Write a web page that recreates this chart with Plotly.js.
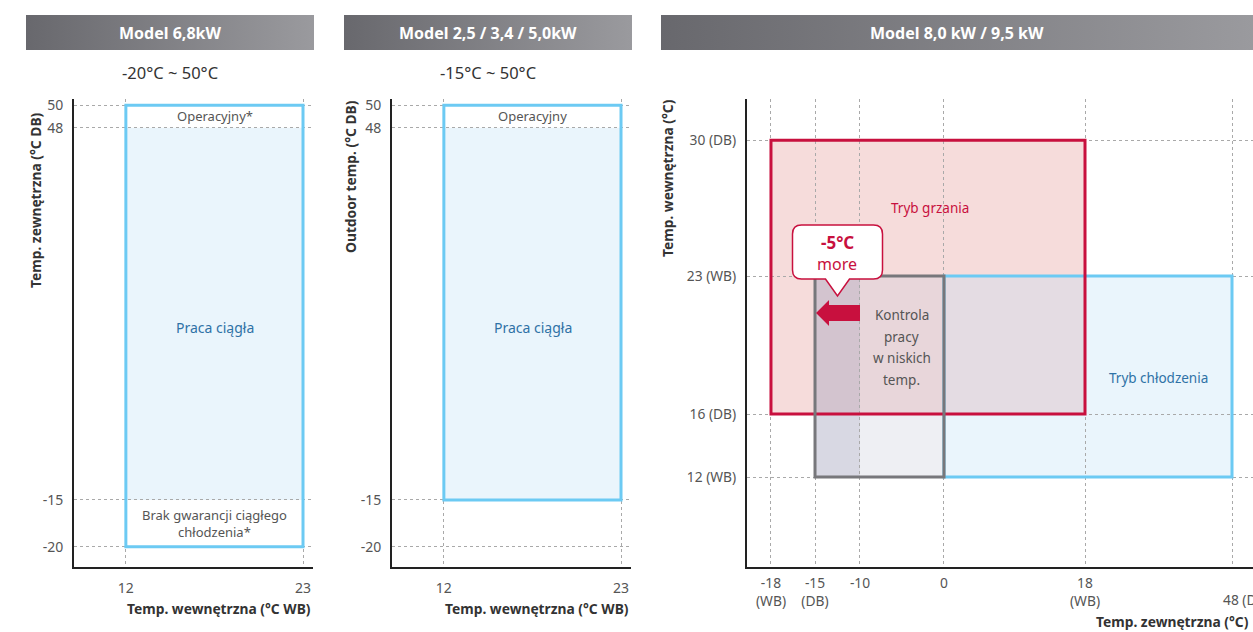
<!DOCTYPE html>
<html><head><meta charset="utf-8">
<script src="https://cdn.plot.ly/plotly-3.0.1.min.js"></script>
<style>html,body{margin:0;padding:0;background:#fff}#chart{width:1253px;height:632px}</style>
</head><body><div id="chart"></div>
<script>
// ---------------- data ----------------
const panelTitles = ['Model 6,8kW', 'Model 2,5 / 3,4 / 5,0kW', 'Model 8,0 kW / 9,5 kW'];
const panelRanges = ['-20°C ~ 50°C', '-15°C ~ 50°C'];
const indoorWB = [12, 23];
const outdoorTicks12 = [50, 48, -15, -20];
const p1Operating = [-20, 50];
const p1Continuous = [-15, 48];
const p2Operating = [-15, 50];
const p2Continuous = [-15, 48];
const p1Labels = ['Operacyjny*', 'Praca ciągła', 'Brak gwarancji ciągłego<br>chłodzenia*'];
const p2Labels = ['Operacyjny', 'Praca ciągła'];
const axisTitles12 = ['Temp. zewnętrzna (°C DB)', 'Outdoor temp. (°C DB)', 'Temp. wewnętrzna (°C WB)'];

const outdoorTicks3 = [-18, -15, -10, 0, 18, 48];
const outdoorTickText3 = ['-18<br>(WB)', '-15<br>(DB)', '-10', '0', '18<br>(WB)', '48 (DB)'];
const indoorTicks3 = [30, 23, 16, 12];
const indoorTickText3 = ['30 (DB)', '23 (WB)', '16 (DB)', '12 (WB)'];
const heatX = [-18, 18], heatY = [16, 30];
const coolX = [0, 48], coolY = [12, 23];
const lowX = [-15, 0], lowY = [12, 23];
const extX = [-15, -10];
const heatLabel = 'Tryb grzania';
const coolLabel = 'Tryb chłodzenia';
const lowLabel = ['Kontrola', 'pracy', 'w niskich', 'temp.'];
const extLabel = ['-5°C', 'more'];
const axisTitles3 = ['Temp. wewnętrzna (°C)', 'Temp. zewnętrzna (°C)'];

// ---------------- layout helpers ----------------
const W = 1253, H = 632;
const FONT = 'Noto Sans, Open Sans, sans-serif';
const RED = '#c8103e', BLUE = '#6ccaf3', BLUEFILL = '#eaf5fc', TXTBLUE = '#2f72a6';
// schematic (piecewise) axis scales: value breakpoints -> fraction of axis length
function pw(vals, fr) {
  return v => { let i = 0; while (i < vals.length - 2 && v > vals[i + 1]) i++;
    const t = (v - vals[i]) / (vals[i + 1] - vals[i]); return fr[i] + t * (fr[i + 1] - fr[i]); };
}
const ys12 = pw([-20, -15, 48, 50], [0.0434, 0.1432, 0.9387, 0.9865]);
const xs3 = pw([-18, -15, -10, 0, 18, 48], [0.0474, 0.1344, 0.2233, 0.3893, 0.668, 0.9585]);
const ys3 = pw([12, 16, 23, 30], [0.1923, 0.3269, 0.6218, 0.912]);
const P3 = {l: 747, r: 1253, t: 99, b: 567};
const px3 = v => P3.l + (P3.r - P3.l) * xs3(v);
const PY = {t: 99, b: 567};

const gridStyle = {showgrid: true, gridcolor: '#a9a9a9', griddash: 'dot', gridwidth: 1,
  showline: true, linecolor: '#222', linewidth: 2, zeroline: false, ticks: '', fixedrange: true};
const mid = a => (a[0] + a[1]) / 2;

function ann(px, py, text, o = {}) {
  return Object.assign({xref: 'paper', yref: 'paper', x: px / W, y: 1 - py / H, text,
    showarrow: false, xanchor: 'center', yanchor: 'middle',
    font: {family: FONT, size: 13, color: '#555'}}, o);
}
function rect(xr, yr, x0, x1, y0, y1, o) {
  return Object.assign({type: 'rect', xref: xr, yref: yr, x0, x1, y0, y1}, o);
}

// ---------------- traces ----------------
const traces = [];
const bars = [[26, 314], [344, 632], [661, 1253]];
bars.forEach(b => traces.push({
  type: 'scatter', xaxis: 'x4', yaxis: 'y4', mode: 'none', fill: 'toself', hoverinfo: 'skip',
  x: [b[0], b[1], b[1], b[0], b[0]], y: [15, 15, 50, 50, 15],
  fillgradient: {type: 'horizontal', colorscale: [[0, '#68686d'], [1, '#9a9a9e']]},
  showlegend: false
}));
traces.push({type: 'scatter', x: [], y: [], xaxis: 'x', yaxis: 'y', showlegend: false});
traces.push({type: 'scatter', x: [], y: [], xaxis: 'x2', yaxis: 'y2', showlegend: false});
traces.push({type: 'scatter', x: [], y: [], xaxis: 'x3', yaxis: 'y3', showlegend: false});

// ---------------- shapes ----------------
const shapes = [];
shapes.push(rect('x', 'y', indoorWB[0], indoorWB[1], ys12(p1Continuous[0]), ys12(p1Continuous[1]),
  {fillcolor: BLUEFILL, line: {width: 0}, layer: 'below'}));
shapes.push(rect('x', 'y', indoorWB[0], indoorWB[1], ys12(p1Operating[0]), ys12(p1Operating[1]),
  {line: {color: BLUE, width: 3}, layer: 'above'}));
shapes.push(rect('x2', 'y2', indoorWB[0], indoorWB[1], ys12(p2Continuous[0]), ys12(p2Continuous[1]),
  {fillcolor: BLUEFILL, line: {width: 0}, layer: 'below'}));
shapes.push(rect('x2', 'y2', indoorWB[0], indoorWB[1], ys12(p2Operating[0]), ys12(p2Operating[1]),
  {line: {color: BLUE, width: 3}, layer: 'above'}));
shapes.push(rect('x3', 'y3', xs3(heatX[0]), xs3(heatX[1]), ys3(heatY[0]), ys3(heatY[1]),
  {fillcolor: '#f6dcdb', line: {width: 0}, layer: 'below'}));
shapes.push(rect('x3', 'y3', xs3(lowX[0]), xs3(lowX[1]), ys3(lowY[0]), ys3(lowY[1]),
  {fillcolor: 'rgba(200,202,215,0.3)', line: {width: 0}, layer: 'below'}));
shapes.push(rect('x3', 'y3', xs3(extX[0]), xs3(extX[1]), ys3(lowY[0]), ys3(lowY[1]),
  {fillcolor: 'rgba(128,124,163,0.2)', line: {width: 0}, layer: 'below'}));
shapes.push(rect('x3', 'y3', xs3(coolX[0]), xs3(coolX[1]), ys3(coolY[0]), ys3(coolY[1]),
  {fillcolor: 'rgba(185,222,245,0.3)', line: {width: 0}, layer: 'below'}));
shapes.push(rect('x3', 'y3', xs3(coolX[0]), xs3(coolX[1]), ys3(coolY[0]), ys3(coolY[1]),
  {line: {color: BLUE, width: 3}, layer: 'above'}));
shapes.push(rect('x3', 'y3', xs3(heatX[0]), xs3(heatX[1]), ys3(heatY[0]), ys3(heatY[1]),
  {line: {color: RED, width: 3}, layer: 'above'}));
shapes.push(rect('x3', 'y3', xs3(lowX[0]), xs3(lowX[1]), ys3(lowY[0]), ys3(lowY[1]),
  {line: {color: '#77777b', width: 3}, layer: 'above'}));
(() => {
  const tip = px3(extX[0]) + 1, end = px3(extX[1]), yc = 313, hb = tip + 13;
  const p = `M ${tip},${yc} L ${hb},${yc - 13} L ${hb},${yc - 8} L ${end},${yc - 8} L ${end},${yc + 8} L ${hb},${yc + 8} L ${hb},${yc + 13} Z`;
  shapes.push({type: 'path', xref: 'x4', yref: 'y4', path: p, fillcolor: RED, line: {width: 0}, layer: 'above'});
  const cx = (px3(extX[0]) + px3(extX[1])) / 2;
  const x0 = cx - 45, x1 = cx + 45, y0 = 225, y1 = 279, r = 9, ya = 296;
  const q = `M ${x0 + r},${y0} L ${x1 - r},${y0} Q ${x1},${y0} ${x1},${y0 + r} L ${x1},${y1 - r} Q ${x1},${y1} ${x1 - r},${y1} ` +
    `L ${cx + 12},${y1} L ${cx},${ya} L ${cx - 12},${y1} L ${x0 + r},${y1} Q ${x0},${y1} ${x0},${y1 - r} L ${x0},${y0 + r} Q ${x0},${y0} ${x0 + r},${y0} Z`;
  shapes.push({type: 'path', xref: 'x4', yref: 'y4', path: q, fillcolor: '#fff', line: {color: RED, width: 1.5}, layer: 'above'});
})();

// ---------------- annotations ----------------
const annotations = [];
bars.forEach((b, i) => annotations.push(ann(mid(b), 33, '<b>' + panelTitles[i] + '</b>',
  {font: {family: FONT, size: 16, color: '#fff'}})));
annotations.push(ann(170, 73, panelRanges[0], {font: {family: FONT, size: 16.5, color: '#333'}}));
annotations.push(ann(488, 73, panelRanges[1], {font: {family: FONT, size: 16.5, color: '#333'}}));
const pyOf = f => PY.b - (PY.b - PY.t) * f;
const c1x = 214.5, c2x = 532.5;
annotations.push(ann(c1x, pyOf((ys12(48) + ys12(50)) / 2) - 1, p1Labels[0]));
annotations.push(ann(c1x, 327, p1Labels[1], {font: {family: FONT, size: 14, color: TXTBLUE}}));
annotations.push(ann(c1x, pyOf((ys12(-15) + ys12(-20)) / 2), p1Labels[2]));
annotations.push(ann(c2x, pyOf((ys12(48) + ys12(50)) / 2) - 1, p2Labels[0]));
annotations.push(ann(c2x, 327, p2Labels[1], {font: {family: FONT, size: 14, color: TXTBLUE}}));
const bold13 = {family: FONT, size: 13.8, color: '#333'};
annotations.push(ann(35, 200, '<b>' + axisTitles12[0] + '</b>', {textangle: -90, font: bold13}));
annotations.push(ann(351, 177, '<b>' + axisTitles12[1] + '</b>', {textangle: -90, font: bold13}));
annotations.push(ann(313, 608, '<b>' + axisTitles12[2] + '</b>', {xanchor: 'right', font: bold13}));
annotations.push(ann(631, 608, '<b>' + axisTitles12[2] + '</b>', {xanchor: 'right', font: bold13}));
annotations.push(ann(668, 178, '<b>' + axisTitles3[0] + '</b>', {textangle: -90, font: bold13}));
annotations.push(ann(1251, 621, '<b>' + axisTitles3[1] + '</b>', {xanchor: 'right', font: bold13}));
annotations.push(ann((px3(heatX[0]) + px3(heatX[1])) / 2 + 2, 208, heatLabel, {font: {family: FONT, size: 13.5, color: RED}}));
annotations.push(ann((px3(coolX[1]) + px3(heatX[1])) / 2, 378, coolLabel, {font: {family: FONT, size: 13.5, color: TXTBLUE}}));
lowLabel.forEach((t, i) => annotations.push(ann(902, 315 + i * 21.7, t, {font: {family: FONT, size: 13.5, color: '#555'}})));
const cxc = (px3(extX[0]) + px3(extX[1])) / 2;
annotations.push(ann(cxc, 242, '<b>' + extLabel[0] + '</b>', {font: {family: FONT, size: 17, color: RED}}));
annotations.push(ann(cxc, 264, extLabel[1], {font: {family: FONT, size: 16, color: RED}}));
annotations.push(ann(px3(outdoorTicks3[5]) - 11, 599, outdoorTickText3[5], {xanchor: 'left', font: {family: FONT, size: 13.8, color: '#555'}}));

// ---------------- layout ----------------
const tf = {family: FONT, size: 14, color: '#555'};
const ydom = [1 - PY.b / H, 1 - PY.t / H];
const layout = {
  width: W, height: H, margin: {l: 0, r: 0, t: 0, b: 0},
  paper_bgcolor: '#fff', plot_bgcolor: 'rgba(0,0,0,0)', showlegend: false,
  font: {family: FONT},
  xaxis: Object.assign({}, gridStyle, {domain: [74 / W, 313 / W], range: [8.78, 23.62], anchor: 'y',
    tickvals: indoorWB, ticktext: indoorWB.map(String), tickfont: tf, ticklabelstandoff: 7}),
  yaxis: Object.assign({}, gridStyle, {domain: ydom, range: [0, 1], anchor: 'x',
    tickvals: outdoorTicks12.map(ys12), ticktext: outdoorTicks12.map(String), tickfont: tf, ticklabelstandoff: 6}),
  xaxis2: Object.assign({}, gridStyle, {domain: [392 / W, 631 / W], range: [8.78, 23.62], anchor: 'y2',
    tickvals: indoorWB, ticktext: indoorWB.map(String), tickfont: tf, ticklabelstandoff: 7}),
  yaxis2: Object.assign({}, gridStyle, {domain: ydom, range: [0, 1], anchor: 'x2',
    tickvals: outdoorTicks12.map(ys12), ticktext: outdoorTicks12.map(String), tickfont: tf, ticklabelstandoff: 6}),
  xaxis3: Object.assign({}, gridStyle, {domain: [P3.l / W, 1], range: [0, 1], anchor: 'y3',
    tickvals: outdoorTicks3.map(xs3), ticktext: outdoorTickText3.map((t, i) => i === 5 ? '' : t),
    tickfont: {family: FONT, size: 13.8, color: '#555'}, ticklabelstandoff: 2}),
  yaxis3: Object.assign({}, gridStyle, {domain: ydom, range: [0, 1], anchor: 'x3',
    tickvals: indoorTicks3.map(ys3), ticktext: indoorTickText3,
    tickfont: {family: FONT, size: 13.8, color: '#555'}, ticklabelstandoff: 6}),
  xaxis4: {domain: [0, 1], range: [0, W], visible: false, fixedrange: true, anchor: 'y4'},
  yaxis4: {domain: [0, 1], range: [H, 0], visible: false, fixedrange: true, anchor: 'x4'},
  shapes, annotations
};
Plotly.newPlot('chart', traces, layout, {staticPlot: true, displayModeBar: false});
</script></body></html>
